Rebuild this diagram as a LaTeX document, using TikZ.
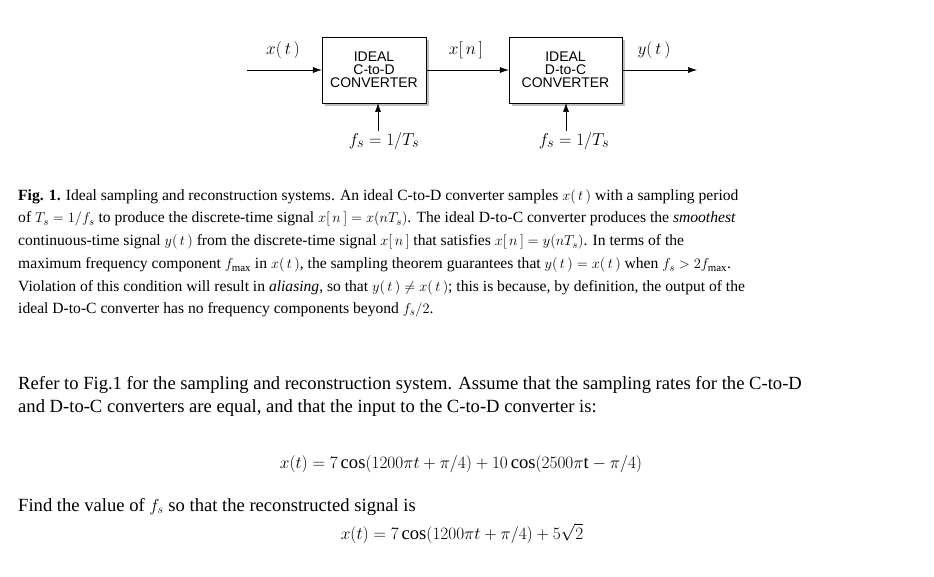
\documentclass[tikz,border=0pt]{standalone}
\usepackage{fontspec}
\setmainfont{Liberation Serif}
\newfontfamily\diagsans{Liberation Sans}
\usetikzlibrary{arrows.meta}
\begin{document}
\begin{tikzpicture}[x=1pt,y=-1pt,
  conv/.style={draw,fill=white,minimum width=104pt,minimum height=66pt,inner sep=0pt,align=center,font=\diagsans\fontsize{14}{13}\selectfont},
  shad/.style={fill=black!25},
  sig/.style={-{Latex[length=9pt,width=6pt]},line width=0.6pt},
  mlab/.style={font=\fontsize{19}{22}\selectfont,inner sep=0pt},
  captxt/.style={anchor=base west,inner sep=0pt,font=\fontsize{15.6}{18}\selectfont},
  body/.style={anchor=base west,inner sep=0pt,font=\fontsize{18.6}{22}\selectfont}]
\useasboundingbox (0,0) rectangle (934,577);
% shadows
\fill[shad] (325,40) rectangle (429,106);
\fill[shad] (512,40) rectangle (625,106);
\node[conv] (cd) at (374,70) {IDEAL\\C-to-D\\CONVERTER};
\node[conv,minimum width=113pt] (dc) at (565.5,70) {IDEAL\\D-to-C\\CONVERTER};
\coordinate (in) at (247,70);
\coordinate (out) at (697,70);
\draw[sig] (in) -- (cd.west);
\draw[sig] (cd.east) -- (dc.west);
\draw[sig] (dc.east) -- (out);
\node[mlab] (xt) at (283,50) {$x(\,t\,)$};
\node[mlab] (xn) at (466,50) {$x[\,n\,]$};
\node[mlab] (yt) at (654,50) {$y(\,t\,)$};
\node[mlab] (fs1) at (384,141) {$f_s=1/T_s$};
\node[mlab] (fs2) at (574,141) {$f_s=1/T_s$};
\draw[sig] (378,131) -- (378,103);
\draw[sig] (566,131) -- (566,103);
% caption
\node[captxt] (c1) at (18,201) {\textbf{Fig. 1.} Ideal sampling and reconstruction systems. An ideal C-to-D converter samples $x(\,t\,)$ with a sampling period};
\node[captxt] (c2) at (18,223) {of $T_s=1/f_s$ to produce the discrete-time signal $x[\,n\,]=x(nT_s)$. The ideal D-to-C converter produces the \textit{smoothest}};
\node[captxt] (c3) at (18,246) {continuous-time signal $y(\,t\,)$ from the discrete-time signal $x[\,n\,]$ that satisfies $x[\,n\,]=y(nT_s)$. In terms of the};
\node[captxt] (c4) at (18,269) {maximum frequency component $f_{\max}$ in $x(\,t\,)$, the sampling theorem guarantees that $y(\,t\,)=x(\,t\,)$ when $f_s>2f_{\max}$.};
\node[captxt] (c5) at (18,291) {Violation of this condition will result in \textit{aliasing}, so that $y(\,t\,)\neq x(\,t\,)$; this is because, by definition, the output of the};
\node[captxt] (c6) at (18,313) {ideal D-to-C converter has no frequency components beyond $f_s/2$.};
% question
\node[body] (q1) at (18,389) {Refer to Fig.1 for the sampling and reconstruction system. Assume that the sampling rates for the C-to-D};
\node[body] (q2) at (18,412) {and D-to-C converters are equal, and that the input to the C-to-D converter is:};
\node[body,anchor=base] (e1) at (461,468) {$x(t)=7\cos(1200\pi t+\pi/4)+10\cos(2500\pi\mathrm{t}-\pi/4)$};
\node[body] (q3) at (18,511) {Find the value of $f_s$ so that the reconstructed signal is};
\node[body,anchor=base] (e2) at (462,539) {$x(t)=7\cos(1200\pi t+\pi/4)+5\sqrt{2}$};
\end{tikzpicture}
\end{document}
